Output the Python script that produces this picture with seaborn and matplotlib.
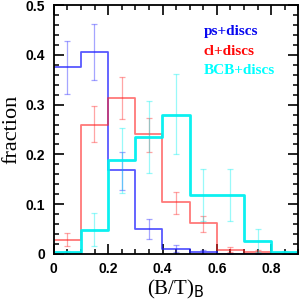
import numpy as np
import matplotlib
matplotlib.use("Agg")
import matplotlib.pyplot as plt
import seaborn as sns
from matplotlib.ticker import MultipleLocator, FuncFormatter

# bin centres of (B/T)_B, width 0.1
centres = [0.05, 0.15, 0.25, 0.35, 0.45, 0.55, 0.65, 0.75, 0.85]
edges = [0.0, 0.1, 0.2, 0.3, 0.4, 0.5, 0.6, 0.7, 0.8, 0.9]

ps_frac = [0.375, 0.405, 0.168, 0.050, 0.011, 0.004, 0.0, 0.0, 0.0]
ps_lo = [0.321, 0.349, 0.128, 0.031, 0.004, 0.0, 0.0, 0.0, 0.0]
ps_hi = [0.428, 0.461, 0.204, 0.070, 0.019, 0.008, 0.0, 0.0, 0.0]

cl_frac = [0.029, 0.260, 0.314, 0.241, 0.104, 0.062, 0.009, 0.005, 0.0]
cl_lo = [0.017, 0.224, 0.272, 0.204, 0.080, 0.045, 0.004, 0.001, 0.0]
cl_hi = [0.042, 0.298, 0.355, 0.274, 0.125, 0.077, 0.015, 0.008, 0.0]

bcb_frac = [0.003, 0.048, 0.189, 0.234, 0.280, 0.119, 0.119, 0.027, 0.003]
bcb_lo = [0.0, 0.016, 0.123, 0.163, 0.200, 0.067, 0.067, 0.003, 0.0]
bcb_hi = [0.006, 0.082, 0.253, 0.307, 0.361, 0.170, 0.170, 0.050, 0.006]

plt.rcParams["axes.linewidth"] = 1.3

fig = plt.figure(figsize=(3.0, 3.04), dpi=100)
ax = fig.add_axes([0.179, 0.1645, 0.816, 0.819])

series = [
    ("ps+discs", ps_frac, ps_lo, ps_hi, "#2020ff", 1.3, 0.75, "#0808f0"),
    ("cl+discs", cl_frac, cl_lo, cl_hi, "#ff2020", 1.3, 0.6, "#ff0808"),
    ("BCB+discs", bcb_frac, bcb_lo, bcb_hi, "#00f0f0", 2.0, 0.95, "#00ffff"),
]

for name, frac, lo, hi, col, lw, al, tcol in series:
    sns.histplot(x=centres, weights=frac, bins=edges, element="step", fill=False,
                 color=col, linewidth=lw, alpha=al, ax=ax)
    f = np.array(frac)
    yerr = [f - np.array(lo), np.array(hi) - f]
    ax.errorbar(centres, frac, yerr=yerr, fmt="none", ecolor=col, elinewidth=0.9,
                capsize=2.2, capthick=0.9, alpha=0.4)

ax.set_ylabel("fraction", fontfamily="Liberation Serif", fontsize=16, labelpad=3)
ax.set_xlabel(r"(B/T)$_{\mathsf{B}}$", fontfamily="Liberation Serif", fontsize=15, labelpad=1)

legend_y = [0.893, 0.815, 0.736]
for (name, frac, lo, hi, col, lw, al, tcol), yy in zip(series, legend_y):
    ax.text(0.612, yy, name, transform=ax.transAxes, color=tcol, fontfamily="Liberation Serif",
            fontweight="bold", fontsize=11, va="center", ha="left")

ax.set_xlim(0, 0.9)
ax.set_ylim(0, 0.5)
fmt = FuncFormatter(lambda v, p: "0" if abs(v) < 1e-9 else f"{v:.1f}")
ax.xaxis.set_major_locator(MultipleLocator(0.2))
ax.yaxis.set_major_locator(MultipleLocator(0.1))
ax.xaxis.set_major_formatter(fmt)
ax.yaxis.set_major_formatter(fmt)
ax.xaxis.set_minor_locator(MultipleLocator(0.05))
ax.yaxis.set_minor_locator(MultipleLocator(0.02))
ax.tick_params(which="both", direction="in", top=True, right=True, color="black")
ax.tick_params(which="major", length=7, width=1.2, pad=6, labelsize=10)
ax.tick_params(which="minor", length=3.5, width=1.1)
for lab in ax.get_xticklabels() + ax.get_yticklabels():
    lab.set_fontfamily("Liberation Sans")
    lab.set_fontweight("bold")

fig.savefig("out.png", dpi=100)
